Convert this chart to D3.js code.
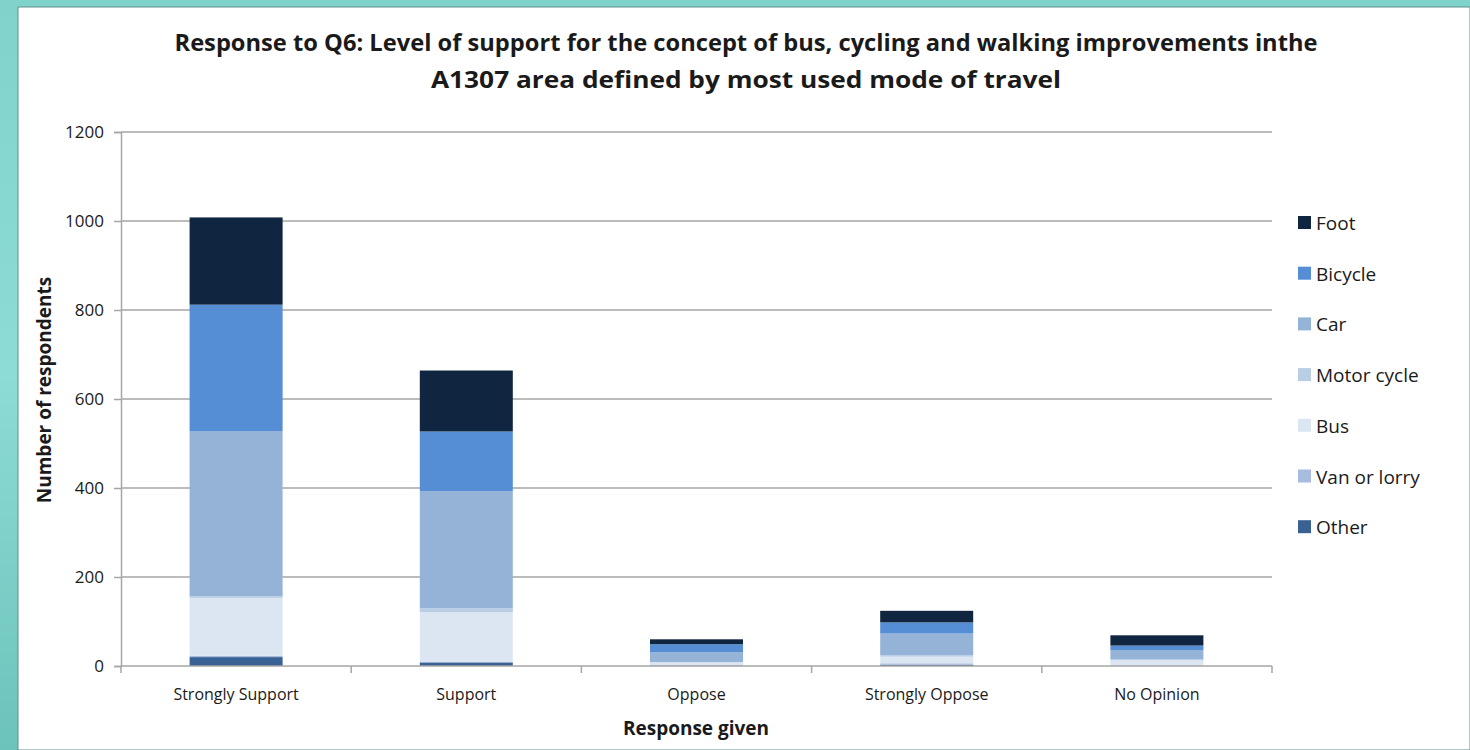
<!DOCTYPE html>
<html>
<head>
<meta charset="utf-8">
<script src="https://cdn.jsdelivr.net/npm/d3@7"></script>
<style>
  html, body { margin: 0; padding: 0; }
  body { width: 1470px; height: 750px; overflow: hidden; }
  text { font-family: "Open Sans", "Noto Sans", sans-serif; fill: #1a1a1a; }
</style>
</head>
<body>
<div id="chart"></div>
<script>
var categories = ["Strongly Support", "Support", "Oppose", "Strongly Oppose", "No Opinion"];
// stacked bottom -> top
var other     = [20, 8, 0, 3, 0];
var vanLorry  = [3, 2, 2, 3, 1];
var bus       = [130, 111, 6, 15, 12];
var motorCycle= [4, 9, 1, 3, 2];
var car       = [371, 263, 22, 49, 21];
var bicycle   = [284, 134, 18, 25, 10];
var foot      = [196, 137, 11, 26, 23];

var seriesNames = ["Other", "Van or lorry", "Bus", "Motor cycle", "Car", "Bicycle", "Foot"];
var seriesValues = [other, vanLorry, bus, motorCycle, car, bicycle, foot];
var seriesColors = ["#3a6194", "#a8bcdf", "#dce6f2", "#b9cde5", "#95b3d7", "#558ed5", "#10253f"];
var yTicks = [0, 200, 400, 600, 800, 1000, 1200];

var titleLines = [
  "Response to Q6: Level of support for the concept of bus, cycling and walking improvements inthe",
  "A1307 area defined by most used mode of travel"
];

function main() {
    var W = 1470, H = 750;
    var svg = d3.select("#chart").append("svg")
        .attr("width", W).attr("height", H);

    // slide background
    var defs = svg.append("defs");
    var grad = defs.append("linearGradient").attr("id", "bg")
        .attr("x1", 0).attr("y1", 0).attr("x2", 0).attr("y2", 1);
    grad.append("stop").attr("offset", "0%").attr("stop-color", "#7fd3cb");
    grad.append("stop").attr("offset", "50%").attr("stop-color", "#8ddcd5");
    grad.append("stop").attr("offset", "100%").attr("stop-color", "#6cc3bb");
    svg.append("rect").attr("width", W).attr("height", H).attr("fill", "url(#bg)");
    svg.append("rect").attr("x", 18).attr("y", 7).attr("width", W - 18).attr("height", H - 7)
        .attr("fill", "#ffffff").attr("stroke", "#5f8f8b").attr("stroke-width", 1);

    // data table
    var table = categories.map(function(c, i) {
        var row = { cat: c };
        seriesNames.forEach(function(s, j) { row[s] = seriesValues[j][i]; });
        return row;
    });
    var stacked = d3.stack().keys(seriesNames)(table);

    var x = d3.scaleBand().domain(categories).range([121, 1272])
        .paddingInner(0.596).paddingOuter(0.298);
    var y = d3.scaleLinear().domain([0, 1200]).range([666, 132]);
    var color = d3.scaleOrdinal().domain(seriesNames).range(seriesColors);

    // y axis
    var yAxis = d3.axisLeft(y).tickValues(yTicks).tickFormat(d3.format("d"))
        .tickSize(7).tickPadding(10);
    var gy = svg.append("g").attr("transform", "translate(121,0)").call(yAxis);
    gy.select(".domain").attr("stroke", "#a6a6a6").attr("stroke-width", 1.5);
    gy.selectAll(".tick line").attr("stroke", "#a6a6a6").attr("stroke-width", 1.5);
    gy.selectAll(".tick text").attr("font-size", 17).attr("fill", "#1a1a1a")
        .attr("font-family", "Open Sans");

    // gridlines
    svg.append("g").selectAll("line")
        .data(yTicks.filter(function(d) { return d > 0; }))
        .enter().append("line")
        .attr("x1", 121).attr("x2", 1272)
        .attr("y1", function(d) { return y(d); })
        .attr("y2", function(d) { return y(d); })
        .attr("stroke", "#a6a6a6").attr("stroke-width", 1.5);

    // bars
    svg.append("g").selectAll("g")
        .data(stacked)
        .enter().append("g")
        .attr("fill", function(d) { return color(d.key); })
        .selectAll("rect")
        .data(function(d) { return d; })
        .enter().append("rect")
        .attr("x", function(d) { return x(d.data.cat); })
        .attr("width", x.bandwidth())
        .attr("y", function(d) { return y(d[1]); })
        .attr("height", function(d) { return y(d[0]) - y(d[1]); });

    // x axis baseline and boundary ticks
    var xb = d3.scaleLinear().domain([0, categories.length]).range([121, 1272]);
    svg.append("line").attr("x1", 121).attr("x2", 1272).attr("y1", y(0)).attr("y2", y(0))
        .attr("stroke", "#a6a6a6").attr("stroke-width", 1.5);
    svg.append("g").selectAll("line")
        .data(d3.range(categories.length + 1))
        .enter().append("line")
        .attr("x1", function(d) { return xb(d); }).attr("x2", function(d) { return xb(d); })
        .attr("y1", y(0)).attr("y2", y(0) + 7)
        .attr("stroke", "#a6a6a6").attr("stroke-width", 1.5);

    svg.append("g").selectAll("text")
        .data(categories)
        .enter().append("text")
        .attr("x", function(d) { return x(d) + x.bandwidth() / 2; })
        .attr("y", 700)
        .attr("text-anchor", "middle")
        .attr("font-size", 16)
        .text(function(d) { return d; });

    // axis titles
    svg.append("text").attr("x", 696).attr("y", 735).attr("text-anchor", "middle")
        .attr("font-size", 19).attr("font-weight", "bold").text("Response given");
    svg.append("text")
        .attr("transform", "translate(51,390) rotate(-90)")
        .attr("text-anchor", "middle")
        .attr("font-size", 19).attr("font-weight", "bold").text("Number of respondents");

    // title
    var titleW = [1143, 630];
    svg.append("g").selectAll("text")
        .data(titleLines)
        .enter().append("text")
        .attr("x", 746)
        .attr("y", function(d, i) { return 51 + i * 37; })
        .attr("text-anchor", "middle")
        .attr("font-size", 24).attr("font-weight", "bold")
        .attr("textLength", function(d, i) { return titleW[i]; })
        .attr("lengthAdjust", "spacingAndGlyphs")
        .text(function(d) { return d; });

    // legend (top to bottom: Foot ... Other)
    var legendNames = seriesNames.slice().reverse();
    var lg = svg.append("g").selectAll("g")
        .data(legendNames)
        .enter().append("g")
        .attr("transform", function(d, i) { return "translate(1298," + (223 + i * 50.7) + ")"; });
    lg.append("rect").attr("x", 0).attr("y", -7).attr("width", 13).attr("height", 13)
        .attr("fill", function(d) { return color(d); });
    lg.append("text").attr("x", 18).attr("y", 7).attr("font-size", 19)
        .text(function(d) { return d; });
}

main();
</script>
</body>
</html>
